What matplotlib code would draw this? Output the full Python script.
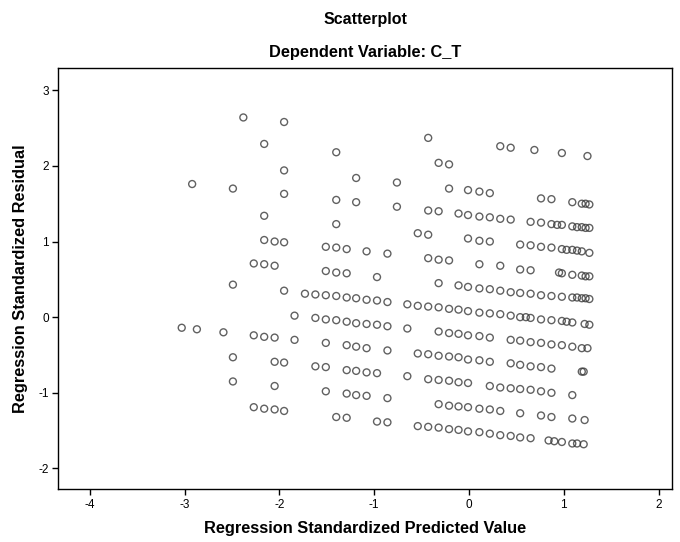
import matplotlib
matplotlib.use("Agg")
import matplotlib.pyplot as plt

plt.rcParams['font.family'] = ['Liberation Sans', 'DejaVu Sans']

# Regression standardized predicted value (x) and residual (y)
pred = [
    -2.38, -2.16, -2.92, -2.49, -2.16, -2.16, -2.05, -2.27, -2.16, -2.05, -2.49,
    -3.03, -2.87, -2.59, -2.27, -2.16, -2.05, -2.49, -2.05, -2.49, -2.05, -2.27, -2.16, -2.05,
    -1.95, -0.43, -1.40, -0.32, -0.21, -1.95, -1.19, -0.76, -1.95, -1.40, -1.19, -0.21, -0.01,
    -0.76, -0.43, -0.32, -0.11, -0.01, -1.40, -0.54, -0.43, -0.01, -1.95, -1.51, -1.40, -1.29,
    -1.08, -0.86, -0.43, -0.32, -0.21, -1.51, -1.40, -1.29, -0.97, -0.32, -0.11, -0.01, -1.95,
    -1.73, -1.62, -1.51, -1.40, -1.29, -1.19, -1.08, -0.97, -0.86, -0.65, -0.54, -0.43, -0.32,
    -0.21, -0.11, -0.01,
    -1.84, -1.62, -1.51, -1.40, -1.29, -1.19, -1.08, -0.97, -0.86, -0.65, -0.32, -0.21, -0.11, -0.01,
    -1.84, -1.51, -1.29, -1.19, -1.08, -0.86, -0.54, -0.43, -0.32, -0.21, -0.11, -0.01,
    -1.95, -1.62, -1.51, -1.29, -1.19, -1.08, -0.97, -0.65, -0.43, -0.32, -0.21, -0.11, -0.01,
    -1.51, -1.29, -1.19, -1.08, -0.86, -0.32, -0.21, -0.11, -0.01,
    -1.95, -1.40, -1.29, -0.97, -0.86, -0.54, -0.43, -0.32, -0.21, -0.11, -0.01,
    0.33, 0.44, 0.69, 0.98, 1.25, 0.11, 0.22, 0.76, 0.87, 1.09, 1.19, 1.23, 1.27,
    0.11, 0.22, 0.33, 0.44, 0.65, 0.76, 0.87, 0.93, 0.98, 1.09, 1.14, 1.19, 1.23, 1.27,
    0.11, 0.22, 0.54, 0.65, 0.76, 0.87, 0.98, 1.03, 1.09, 1.14, 1.19, 1.27,
    0.11, 0.33, 0.54, 0.65, 0.95, 0.98, 1.09, 1.19, 1.23, 1.27,
    0.11, 0.22, 0.33, 0.44, 0.54, 0.65, 0.76, 0.87, 0.98, 1.09, 1.14, 1.19, 1.23, 1.27,
    0.11, 0.22, 0.33, 0.44, 0.54, 0.60, 0.65, 0.76, 0.87, 0.98, 1.03, 1.09, 1.22, 1.27,
    0.11, 0.22, 0.44, 0.54, 0.65, 0.76, 0.87, 0.98, 1.09, 1.19, 1.25,
    0.11, 0.22, 0.44, 0.54, 0.65, 0.76, 0.87, 1.19, 1.21,
    0.22, 0.33, 0.44, 0.54, 0.65, 0.76, 0.87, 1.09,
    0.11, 0.22, 0.33, 0.54, 0.76, 0.87, 1.09, 1.22,
    0.11, 0.22, 0.33, 0.44, 0.54, 0.65, 0.84, 0.90, 0.98, 1.09, 1.14, 1.21,
]
resid = [
    2.64, 2.29, 1.76, 1.70, 1.34, 1.02, 1.00, 0.71, 0.70, 0.68, 0.43,
    -0.14, -0.16, -0.20, -0.24, -0.26, -0.27, -0.53, -0.59, -0.85, -0.91, -1.19, -1.21, -1.22,
    2.58, 2.37, 2.18, 2.04, 2.02, 1.94, 1.84, 1.78, 1.63, 1.55, 1.52, 1.70, 1.68,
    1.46, 1.41, 1.40, 1.37, 1.35, 1.23, 1.11, 1.09, 1.04, 0.99, 0.93, 0.92, 0.90,
    0.87, 0.84, 0.78, 0.76, 0.75, 0.61, 0.59, 0.58, 0.53, 0.45, 0.42, 0.40, 0.35,
    0.31, 0.30, 0.29, 0.28, 0.26, 0.25, 0.23, 0.22, 0.20, 0.17, 0.15, 0.14, 0.13,
    0.11, 0.10, 0.08,
    0.02, -0.01, -0.03, -0.04, -0.06, -0.08, -0.09, -0.10, -0.12, -0.15, -0.19, -0.21, -0.22, -0.24,
    -0.30, -0.34, -0.37, -0.39, -0.41, -0.44, -0.48, -0.49, -0.51, -0.52, -0.53, -0.56,
    -0.60, -0.65, -0.66, -0.70, -0.71, -0.73, -0.74, -0.78, -0.82, -0.83, -0.84, -0.86, -0.87,
    -0.98, -1.01, -1.03, -1.04, -1.07, -1.15, -1.17, -1.18, -1.19,
    -1.24, -1.32, -1.33, -1.38, -1.39, -1.44, -1.45, -1.46, -1.48, -1.49, -1.51,
    2.26, 2.24, 2.21, 2.17, 2.13, 1.66, 1.64, 1.57, 1.56, 1.52, 1.50, 1.50, 1.49,
    1.33, 1.32, 1.30, 1.29, 1.26, 1.25, 1.23, 1.22, 1.22, 1.20, 1.19, 1.19, 1.18, 1.18,
    1.01, 1.00, 0.96, 0.95, 0.93, 0.92, 0.90, 0.89, 0.89, 0.88, 0.87, 0.85,
    0.70, 0.68, 0.63, 0.62, 0.59, 0.58, 0.56, 0.55, 0.54, 0.54,
    0.38, 0.37, 0.35, 0.33, 0.32, 0.31, 0.29, 0.28, 0.27, 0.26, 0.26, 0.25, 0.25, 0.24,
    0.06, 0.05, 0.04, 0.02, 0.00, 0.00, -0.01, -0.03, -0.04, -0.05, -0.06, -0.07, -0.09, -0.10,
    -0.25, -0.27, -0.30, -0.31, -0.33, -0.34, -0.36, -0.37, -0.39, -0.41, -0.41,
    -0.57, -0.59, -0.61, -0.63, -0.65, -0.66, -0.68, -0.72, -0.72,
    -0.91, -0.93, -0.94, -0.95, -0.96, -0.98, -1.00, -1.03,
    -1.21, -1.22, -1.24, -1.27, -1.30, -1.32, -1.34, -1.36,
    -1.52, -1.54, -1.56, -1.57, -1.59, -1.60, -1.63, -1.64, -1.65, -1.67, -1.67, -1.68,
]

x_ticks = [-4, -3, -2, -1, 0, 1, 2]
y_ticks = [-2, -1, 0, 1, 2, 3]

fig = plt.figure(figsize=(6.8, 5.42), dpi=100)
ax = fig.add_axes([0.086, 0.098, 0.902, 0.776])

ax.scatter(pred, resid, s=25, facecolors='none', edgecolors='#3a3a3a',
           linewidths=1.0, alpha=0.8, zorder=3)

ax.set_xlim(-4.33, 2.14)
ax.set_ylim(-2.27, 3.29)
ax.set_xticks(x_ticks)
ax.set_yticks(y_ticks)
ax.set_xticklabels([str(v) for v in x_ticks])
ax.set_yticklabels([str(v) for v in y_ticks])
ax.tick_params(direction='out', length=4, width=1, labelsize=8.5, colors='black', pad=3)
for sp in ax.spines.values():
    sp.set_linewidth(1.0)
    sp.set_color('black')

ax.set_xlabel('Regression Standardized Predicted Value', fontsize=11.8, fontweight='bold')
ax.set_ylabel('Regression Standardized Residual', fontsize=11.8, fontweight='bold')
ax.xaxis.set_label_coords(0.5, -0.077)
ax.yaxis.set_label_coords(-0.050, 0.5)

fig.text(0.537, 0.964, 'Scatterplot', ha='center', va='center', fontsize=11.5, fontweight='bold')
fig.text(0.537, 0.904, 'Dependent Variable: C_T', ha='center', va='center', fontsize=11.8, fontweight='bold')

fig.savefig('out.png', dpi=100)
